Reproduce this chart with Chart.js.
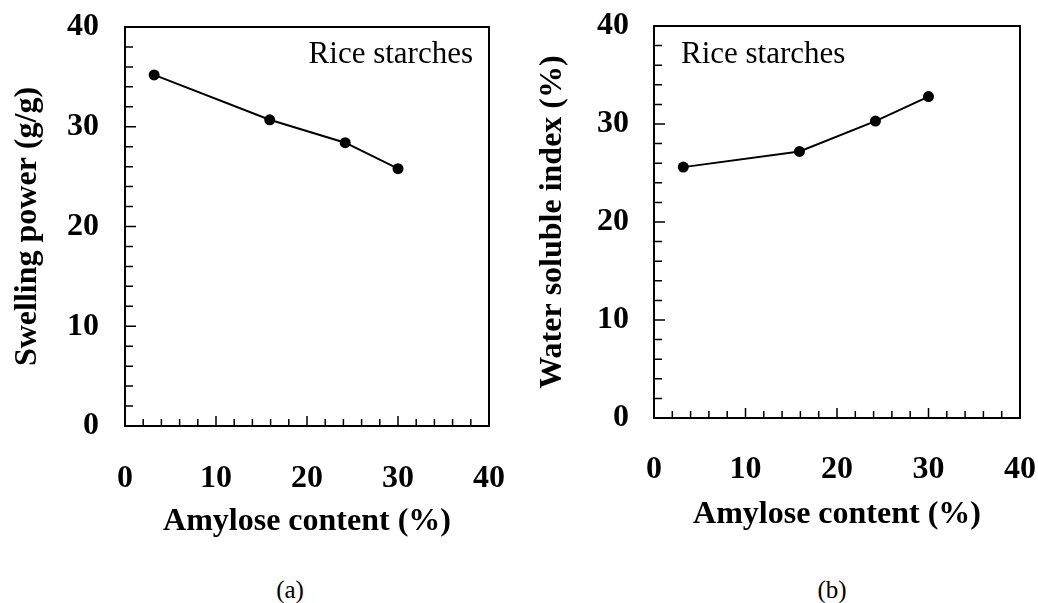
<!DOCTYPE html>
<html>
<head>
<meta charset="utf-8">
<title>Rice starches - swelling power and water solubility</title>
<script src="https://cdn.jsdelivr.net/npm/chart.js@4.4.1/dist/chart.umd.min.js"></script>
<style>
  body { margin: 0; background: #fff; width: 1038px; height: 603px; position: relative; overflow: hidden; }
  .panel { position: absolute; top: 0; }
  .cap { position: absolute; top: 576px; font: 25px 'Liberation Serif', 'Times New Roman', serif; color: #000; transform: translateX(-50%); }
</style>
</head>
<body>
<div class="panel" style="left:0"><canvas id="chartA" width="519" height="546"></canvas></div>
<div class="panel" style="left:519px"><canvas id="chartB" width="519" height="540"></canvas></div>
<div class="cap" style="left:290px">(a)</div>
<div class="cap" style="left:832px">(b)</div>
<script>
// data
const amylose = [3.2, 15.9, 24.2, 30.0]
const swellingPower = [35.2, 30.7, 28.4, 25.8]
const waterSoluble = [25.6, 27.2, 30.3, 32.8]
const xTicks = [0, 10, 20, 30, 40]
const yTicks = [0, 10, 20, 30, 40]

Chart.defaults.font.family = "'Liberation Serif', 'Times New Roman', serif"
Chart.defaults.color = '#000'

const boldFont = { size: 32, weight: 'bold' }

// box around the plot + inward ticks on left and bottom axes
const frameTicks = {
  id: 'frameTicks',
  afterDatasetsDraw(chart) {
    const ctx = chart.ctx
    const a = chart.chartArea
    const xs = chart.scales.x
    const ys = chart.scales.y
    ctx.save()
    ctx.strokeStyle = '#000'
    ctx.lineWidth = 1.5
    ctx.beginPath()
    for (let v = 0; v <= 40; v += 2) {
      let major = v % 10 == 0
      let py = ys.getPixelForValue(v)
      ctx.moveTo(a.left, py)
      ctx.lineTo(a.left + (major ? 11 : 8), py)
      let px = xs.getPixelForValue(v)
      ctx.moveTo(px, a.bottom)
      ctx.lineTo(px, a.bottom - (major ? 10 : 7))
    }
    ctx.stroke()
    ctx.lineWidth = 2
    ctx.strokeRect(a.left, a.top, a.right - a.left, a.bottom - a.top)
    ctx.restore()
  }
}

// "Rice starches" note inside the plot
const riceLabel = {
  id: 'riceLabel',
  afterDraw(chart, args, opts) {
    const ctx = chart.ctx
    const a = chart.chartArea
    ctx.save()
    ctx.font = "31px 'Liberation Serif', 'Times New Roman', serif"
    ctx.fillStyle = '#000'
    ctx.textBaseline = 'alphabetic'
    ctx.textAlign = opts.align
    let x = opts.align == 'right' ? a.right - opts.dx : a.left + opts.dx
    ctx.fillText(opts.text, x, a.top + opts.dy)
    ctx.restore()
  }
}

function makeChart(id, values, yTitle, o) {
  return new Chart(document.getElementById(id), {
    type: 'scatter',
    data: {
      datasets: [{
        data: amylose.map((x, i) => ({ x: x, y: values[i] })),
        showLine: true,
        borderColor: '#000',
        borderWidth: 2,
        pointRadius: 5.5,
        pointBackgroundColor: '#000',
        pointBorderWidth: 0
      }]
    },
    options: {
      responsive: false,
      animation: false,
      devicePixelRatio: 1,
      layout: { padding: { top: o.top, right: o.right, left: 0, bottom: 0 } },
      plugins: {
        legend: { display: false },
        tooltip: { enabled: false },
        riceLabel: o.label
      },
      scales: {
        x: {
          type: 'linear',
          min: 0,
          max: 40,
          afterBuildTicks: s => { s.ticks = xTicks.map(v => ({ value: v })) },
          // fixed axis size, no extra label overflow padding
          afterFit: s => { s.height = o.xHeight; s.paddingLeft = 0; s.paddingRight = 0 },
          grid: { display: false, drawTicks: false },
          border: { display: false },
          ticks: { padding: o.xPad, maxRotation: 0, font: boldFont, color: '#000' },
          title: { display: true, text: 'Amylose content (%)', font: boldFont, color: '#000', padding: { top: 0, bottom: o.xTitlePad } }
        },
        y: {
          type: 'linear',
          min: 0,
          max: 40,
          afterBuildTicks: s => { s.ticks = yTicks.map(v => ({ value: v })) },
          afterFit: s => { s.width = o.yWidth; s.paddingTop = 0; s.paddingBottom = 0 },
          grid: { display: false, drawTicks: false },
          border: { display: false },
          ticks: { padding: o.yPad, font: boldFont, color: '#000' },
          title: { display: true, text: yTitle, font: boldFont, color: '#000', padding: { top: o.yTitlePad, bottom: 0 } }
        }
      }
    },
    plugins: [frameTicks, riceLabel]
  })
}

makeChart('chartA', swellingPower, 'Swelling power (g/g)', {
  top: 27, right: 30, yWidth: 125, yPad: 26, yTitlePad: 9,
  xHeight: 120, xPad: 34, xTitlePad: 5,
  label: { text: 'Rice starches', align: 'right', dx: 16, dy: 36 }
})

makeChart('chartB', waterSoluble, 'Water soluble index (%)', {
  top: 26, right: 18, yWidth: 135, yPad: 25, yTitlePad: 15,
  xHeight: 122, xPad: 33, xTitlePad: 6,
  label: { text: 'Rice starches', align: 'left', dx: 27, dy: 37 }
})
</script>
</body>
</html>
